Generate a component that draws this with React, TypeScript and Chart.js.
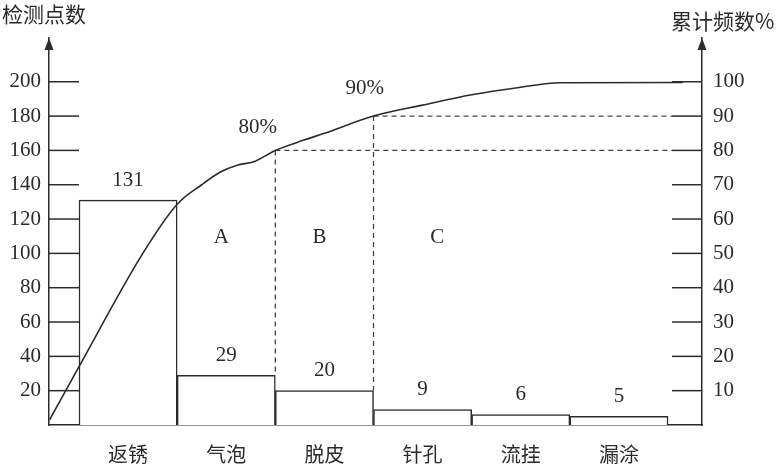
import React, { useEffect, useRef } from "react";
import Chart from "chart.js/auto";

// Pareto data
const categories = ["返锈", "气泡", "脱皮", "针孔", "流挂", "漏涂"];
const counts = [131, 29, 20, 9, 6, 5];
const leftTicks = [20, 40, 60, 80, 100, 120, 140, 160, 180, 200];
const rightTicks = [10, 20, 30, 40, 50, 60, 70, 80, 90, 100];

// cumulative curve as drawn (x in bar widths from the first bar's left edge)
const curveX = [-0.3, 0, 0.65, 1, 1.25, 1.44, 1.61, 1.78, 2, 2.29, 2.5, 3, 3.5, 4, 4.5, 4.9, 6.15];
const curvePct = [1.5, 17, 50, 64.3, 70, 73.7, 75.7, 76.7, 80, 83, 85, 90, 93.2, 96.2, 98.4, 99.7, 99.8];

// 80% / 90% guide lines drop at the right edge of these bars
const guideBars = [1, 2];
const guideLabels = ["80%", "90%"];
const guideLabelX = [1.82, 2.91];
const guideLabelPct = [86.8, 98.1];

const zoneLabels = ["A", "B", "C"];
const zoneX = [1.45, 2.45, 3.65];
const zoneY = 109.5;

const INK = "#2b2b2b";
const SERIF = "'Liberation Serif', 'DejaVu Serif', serif";
const CJK = "'Noto Sans CJK SC', sans-serif";

const Y_MAX = 225.5;
const X_MIN = -0.3056;
const X_MAX = 6.346;
const GUIDE_END = 6.04;

const total = counts.reduce((a, b) => a + b, 0);
const cumCount = counts.map((_, i) => counts.slice(0, i + 1).reduce((a, b) => a + b, 0));

const decor = {
  id: "paretoDecor",
  beforeDraw(chart: any) {
    const { ctx, width, height } = chart;
    ctx.save();
    ctx.fillStyle = "#fff";
    ctx.fillRect(0, 0, width, height);
    ctx.restore();
  },
  afterDatasetsDraw(chart: any) {
    const { ctx, chartArea } = chart;
    const { x, y, y1 } = chart.scales;
    ctx.save();
    ctx.strokeStyle = INK;
    ctx.fillStyle = INK;
    ctx.lineWidth = 1.5;

    // tick marks drawn inward
    const x0 = x.getPixelForValue(0);
    y.ticks.forEach((t: any) => {
      const py = y.getPixelForValue(t.value);
      ctx.beginPath();
      ctx.moveTo(chartArea.left, py);
      ctx.lineTo(x0, py);
      ctx.stroke();
    });
    const xr = x.getPixelForValue(GUIDE_END);
    y1.ticks.forEach((t: any) => {
      const py = y1.getPixelForValue(t.value);
      ctx.beginPath();
      ctx.moveTo(xr, py);
      ctx.lineTo(chartArea.right, py);
      ctx.stroke();
    });

    // arrow heads
    [chartArea.left, chartArea.right].forEach((ax) => {
      ctx.beginPath();
      ctx.moveTo(ax, chartArea.top);
      ctx.lineTo(ax - 4.5, chartArea.top + 12);
      ctx.lineTo(ax + 4.5, chartArea.top + 12);
      ctx.closePath();
      ctx.fill();
    });

    // value labels
    ctx.font = `21px ${SERIF}`;
    ctx.textAlign = "center";
    ctx.textBaseline = "middle";
    counts.forEach((v, i) => {
      ctx.fillText(String(v), x.getPixelForValue(i + 0.5), y.getPixelForValue(v) - 20);
    });
    zoneLabels.forEach((s, i) => {
      ctx.fillText(s, x.getPixelForValue(zoneX[i]), y.getPixelForValue(zoneY));
    });
    guideLabels.forEach((s, i) => {
      ctx.fillText(s, x.getPixelForValue(guideLabelX[i]), y1.getPixelForValue(guideLabelPct[i]));
    });

    // axis titles
    ctx.font = `21px ${CJK}`;
    ctx.textAlign = "left";
    ctx.fillText("检测点数", 2, 14);
    ctx.fillText("累计频数%", 671, 21);
    ctx.restore();
  },
};

const App: React.FC = () => {
  const canvasRef = useRef<HTMLCanvasElement>(null);
  const chartRef = useRef<Chart | null>(null);

  useEffect(() => {
    if (!canvasRef.current) return;
    const ctx = canvasRef.current.getContext("2d");
    if (!ctx) return;
    if (chartRef.current) chartRef.current.destroy();

    const guideSets: any[] = [];
    guideBars.forEach((b) => {
      const edge = b + 1;
      const pct = (cumCount[b] / total) * 100;
      guideSets.push({
        type: "line",
        data: [
          { x: edge, y: pct },
          { x: GUIDE_END, y: pct },
        ],
        yAxisID: "y1",
      });
      guideSets.push({
        type: "line",
        data: [
          { x: edge, y: cumCount[b] },
          { x: edge, y: counts[b] },
        ],
        yAxisID: "y",
      });
    });

    chartRef.current = new Chart(ctx, {
      type: "bar",
      data: {
        datasets: [
          {
            type: "line",
            data: curveX.map((v, i) => ({ x: v, y: curvePct[i] })),
            yAxisID: "y1",
            xAxisID: "x",
            borderColor: INK,
            borderWidth: 1.6,
            pointRadius: 0,
            cubicInterpolationMode: "monotone",
            fill: false,
            order: 0,
          },
          ...guideSets.map((d) => ({
            ...d,
            xAxisID: "x",
            borderColor: "#444",
            borderWidth: 1.3,
            borderDash: [5, 4],
            pointRadius: 0,
            fill: false,
            order: 1,
          })),
          {
            type: "bar",
            data: counts.map((v, i) => ({ x: i + 0.5, y: v })),
            xAxisID: "x",
            yAxisID: "y",
            backgroundColor: "#fff",
            borderColor: INK,
            borderWidth: 1.5,
            barPercentage: 1,
            categoryPercentage: 1,
            order: 2,
          },
        ],
      },
      options: {
        animation: false,
        responsive: false,
        layout: { padding: { top: 38, left: 0, right: 0, bottom: 0 } },
        plugins: { legend: { display: false }, tooltip: { enabled: false } },
        scales: {
          x: {
            type: "linear",
            position: "bottom",
            offset: false,
            min: X_MIN,
            max: X_MAX,
            grid: { display: false, drawTicks: false, offset: false },
            border: { display: true, color: INK, width: 1.5 },
            afterBuildTicks: (s: any) => {
              s.ticks = categories.map((_, i) => ({ value: i + 0.5 }));
            },
            afterFit: (s: any) => {
              s.height = 41;
            },
            ticks: {
              autoSkip: false,
              maxRotation: 0,
              padding: 17,
              color: INK,
              font: { family: CJK, size: 20 },
              callback: (v: any) => categories[Math.round(Number(v) - 0.5)] ?? "",
            },
          },
          y: {
            type: "linear",
            position: "left",
            min: 0,
            max: Y_MAX,
            grid: { display: false, drawTicks: false },
            border: { display: true, color: INK, width: 1.5 },
            afterBuildTicks: (s: any) => {
              s.ticks = leftTicks.map((v) => ({ value: v }));
            },
            afterFit: (s: any) => {
              s.width = 49;
            },
            ticks: { padding: 8, color: INK, font: { family: SERIF, size: 21 } },
          },
          y1: {
            type: "linear",
            position: "right",
            min: 0,
            max: Y_MAX / 2,
            grid: { display: false, drawTicks: false },
            border: { display: true, color: INK, width: 1.5 },
            afterBuildTicks: (s: any) => {
              s.ticks = rightTicks.map((v) => ({ value: v }));
            },
            afterFit: (s: any) => {
              s.width = 80;
            },
            ticks: { padding: 11, color: INK, font: { family: SERIF, size: 21 } },
          },
        },
      },
      plugins: [decor],
    } as any);

    return () => {
      if (chartRef.current) {
        chartRef.current.destroy();
        chartRef.current = null;
      }
    };
  }, []);

  return (
    <div style={{ position: "absolute", left: 0, top: 0, width: 782, height: 466, background: "#fff" }}>
      <canvas ref={canvasRef} width={782} height={466} style={{ display: "block" }} />
    </div>
  );
};

export default App;
